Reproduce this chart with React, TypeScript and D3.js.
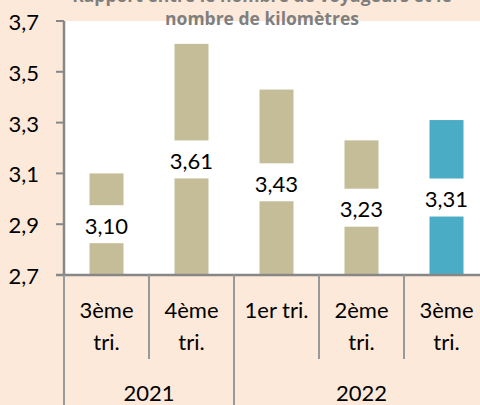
import { useEffect, useRef } from "react";
import * as d3 from "d3";

const categoryLines: string[][] = [["3ème", "tri."], ["4ème", "tri."], ["1er tri."], ["2ème", "tri."], ["3ème", "tri."]];
const categoryYears = ["2021", "2021", "2022", "2022", "2022"];
const years = ["2021", "2022"];
const values = [3.1, 3.61, 3.43, 3.23, 3.31];
const highlighted = [false, false, false, false, true];
const yTicks = [2.7, 2.9, 3.1, 3.3, 3.5, 3.7];
const titleLines = ["Rapport entre le nombre de voyageurs et le", "nombre de kilomètres"];

const W = 480;
const H = 405;

const fr = d3.formatLocale({ decimal: ",", thousands: " ", grouping: [3], currency: ["", " €"] });
const fmt2 = fr.format(".2f");
const fmt1 = fr.format(".1f");

export default function App() {
  const svgRef = useRef<SVGSVGElement>(null);

  useEffect(() => {
    if (!svgRef.current) return;
    const svg = d3.select(svgRef.current);
    svg.selectAll("*").remove();

    const font = "Lato, 'Open Sans', sans-serif";
    const plot = { left: 64, right: 489, top: 21, bottom: 275 };

    const idx = values.map((_, i) => String(i));
    const x = d3.scaleBand<string>()
      .domain(idx)
      .range([plot.left, plot.right])
      .paddingInner(0.6)
      .paddingOuter(0.3);
    const step = x.step();

    const y = d3.scaleLinear().domain([2.7, 3.7]).range([plot.bottom, plot.top]);

    // background
    svg.append("rect").attr("width", W).attr("height", H).attr("fill", "#FDE9D9");
    svg.append("rect")
      .attr("x", plot.left).attr("y", plot.top)
      .attr("width", plot.right - plot.left).attr("height", plot.bottom - plot.top)
      .attr("fill", "#ffffff");

    // title (top line is cut by the chart edge, as in the source)
    svg.append("g")
      .selectAll("text")
      .data(titleLines)
      .enter()
      .append("text")
      .attr("x", 262)
      .attr("y", (_, i) => 2 + i * 23)
      .attr("text-anchor", "middle")
      .attr("font-family", "'Open Sans', sans-serif")
      .attr("font-weight", "bold")
      .attr("font-size", 17.5)
      .attr("fill", "#7f7f7f")
      .text(d => d);

    // bars
    svg.append("g")
      .selectAll("rect")
      .data(values)
      .enter()
      .append("rect")
      .attr("x", (_, i) => x(String(i))!)
      .attr("y", d => y(d))
      .attr("width", x.bandwidth())
      .attr("height", d => y(2.7) - y(d))
      .attr("fill", (_, i) => (highlighted[i] ? "#4BACC6" : "#C4BD97"));

    // data labels with white box
    const labels = svg.append("g")
      .selectAll("g")
      .data(values)
      .enter()
      .append("g")
      .attr("transform", (d, i) => `translate(${x(String(i))! + x.bandwidth() / 2},${(y(d) + y(2.7)) / 2})`);
    labels.append("rect")
      .attr("x", -25).attr("y", -19)
      .attr("width", 50).attr("height", 38)
      .attr("fill", "#ffffff");
    labels.append("text")
      .attr("y", 9.5)
      .attr("text-anchor", "middle")
      .attr("font-family", font)
      .attr("font-size", 22)
      .attr("fill", "#000")
      .text(d => fmt2(d));

    // y axis
    svg.append("line")
      .attr("x1", plot.left).attr("x2", plot.left)
      .attr("y1", plot.top).attr("y2", plot.bottom)
      .attr("stroke", "#878787").attr("stroke-width", 2.5);
    const yt = svg.append("g").selectAll("g").data(yTicks).enter().append("g");
    yt.append("line")
      .attr("x1", 56).attr("x2", plot.left)
      .attr("y1", d => y(d)).attr("y2", d => y(d))
      .attr("stroke", "#878787").attr("stroke-width", 2);
    yt.append("text")
      .attr("x", 39)
      .attr("y", d => y(d) + 9)
      .attr("text-anchor", "end")
      .attr("font-family", font)
      .attr("font-size", 22)
      .attr("fill", "#000")
      .text(d => fmt1(d));

    // x axis line
    svg.append("line")
      .attr("x1", 56).attr("x2", plot.right)
      .attr("y1", plot.bottom).attr("y2", plot.bottom)
      .attr("stroke", "#878787").attr("stroke-width", 2.5);

    // category separators
    const seps = d3.range(values.length + 1).map(k => plot.left + k * step);
    svg.append("g")
      .selectAll("line")
      .data(seps)
      .enter()
      .append("line")
      .attr("x1", d => d).attr("x2", d => d)
      .attr("y1", plot.bottom)
      .attr("y2", (_, k) => (k === 0 || k === values.length || categoryYears[k] !== categoryYears[k - 1] ? H : 359))
      .attr("stroke", "#999999").attr("stroke-width", 2);

    // category labels
    const cat = svg.append("g")
      .selectAll("text")
      .data(categoryLines)
      .enter()
      .append("text")
      .attr("text-anchor", "middle")
      .attr("font-family", font)
      .attr("font-size", 22)
      .attr("fill", "#000");
    cat.selectAll("tspan")
      .data((d, i) => d.map(t => ({ t, i })))
      .enter()
      .append("tspan")
      .attr("x", d => x(String(d.i))! + x.bandwidth() / 2)
      .attr("y", (_, j) => 318 + j * 32)
      .text(d => d.t);

    // year labels
    svg.append("g")
      .selectAll("text")
      .data(years)
      .enter()
      .append("text")
      .attr("x", yr => {
        const first = categoryYears.indexOf(yr);
        const last = categoryYears.lastIndexOf(yr);
        return (plot.left + first * step + plot.left + (last + 1) * step) / 2;
      })
      .attr("y", 401)
      .attr("text-anchor", "middle")
      .attr("font-family", font)
      .attr("font-size", 22)
      .attr("fill", "#000")
      .text(d => d);
  }, []);

  return (
    <div style={{ position: "absolute", left: 0, top: 0, width: W, height: H }}>
      <svg ref={svgRef} width={W} height={H} style={{ display: "block" }}></svg>
    </div>
  );
}
